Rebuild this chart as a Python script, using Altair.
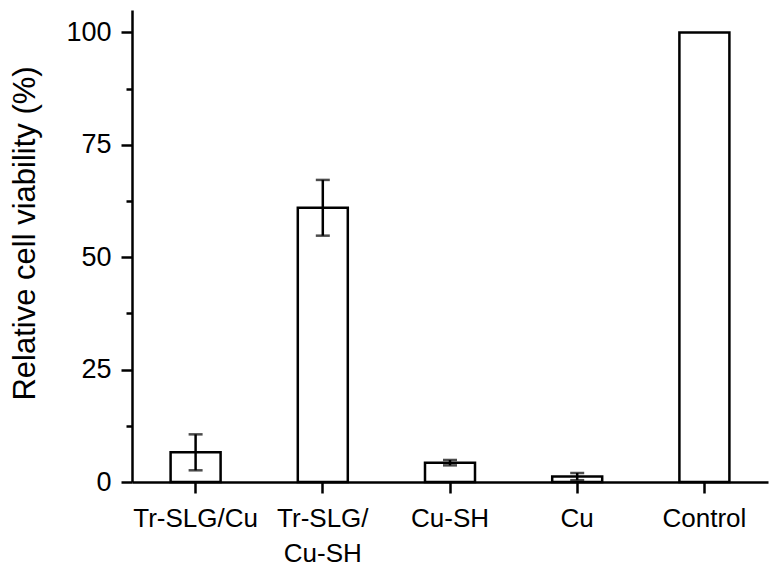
import altair as alt
import pandas as pd

categories = ["Tr-SLG/Cu", "Tr-SLG/\nCu-SH", "Cu-SH", "Cu", "Control"]
values = [6.6, 61.0, 4.3, 1.2, 100.0]
errors = [4.0, 6.2, 0.6, 0.8, 0.0]

df = pd.DataFrame({"cat": categories, "val": values, "err": errors})
df["lo"] = df["val"] - df["err"]
df["hi"] = df["val"] + df["err"]
df_err = df[df["err"] > 0]

FONT = "Liberation Sans"
LW = 2.5

x_enc = alt.X(
    "cat:N",
    sort=categories,
    scale=alt.Scale(paddingInner=0.606, paddingOuter=0.303),
    axis=alt.Axis(
        title=None,
        labelExpr="split(datum.label, '\\n')",
        labelAngle=0,
        labelFont=FONT,
        labelFontSize=26,
        labelColor="black",
        labelLineHeight=35,
        labelPadding=12,
        labelLimit=0,
        labelOverlap=False,
        tickSize=11,
        tickWidth=LW,
        tickColor="black",
        domainColor="black",
        domainWidth=LW,
        grid=False,
    ),
)

y_axis = alt.Axis(
    title="Relative cell viability (%)",
    titleFont=FONT,
    titleFontSize=31,
    titleFontWeight="normal",
    titleColor="black",
    titleX=-98,
    titleY=223,
    titleAngle=-90,
    titleAlign="center",
    titleBaseline="alphabetic",
    values=[0, 12.5, 25, 37.5, 50, 62.5, 75, 87.5, 100],
    labelExpr="datum.value % 25 === 0 ? datum.label : ''",
    labelFont=FONT,
    labelFontSize=27,
    labelColor="black",
    labelPadding=10,
    tickSize={"condition": {"test": "datum.value % 25 === 0", "value": 11}, "value": 6},
    tickWidth=LW,
    tickColor="black",
    domainColor="black",
    domainWidth=LW,
    grid=False,
)

bars = alt.Chart(df).mark_bar(
    fill="white", stroke="black", strokeWidth=LW, size=50
).encode(
    x=x_enc,
    y=alt.Y("val:Q", scale=alt.Scale(domain=[0, 105], nice=False), axis=y_axis),
)

rules = alt.Chart(df_err).mark_rule(color="black", strokeWidth=LW).encode(
    x=alt.X("cat:N", sort=categories),
    y="lo:Q",
    y2="hi:Q",
)

caps_lo = alt.Chart(df_err).mark_tick(
    color="black", size=14, thickness=LW, orient="horizontal"
).encode(x=alt.X("cat:N", sort=categories), y="lo:Q")

caps_hi = alt.Chart(df_err).mark_tick(
    color="black", size=14, thickness=LW, orient="horizontal"
).encode(x=alt.X("cat:N", sort=categories), y="hi:Q")

chart = (
    alt.layer(bars, rules, caps_lo, caps_hi)
    .properties(
        width=636,
        height=472,
        padding={"left": 124, "top": 2, "right": 2, "bottom": 90},
        autosize="none",
        background="white",
    )
    .configure_view(stroke=None)
)

chart.save("out.html", embed_options={"renderer": "svg", "actions": False})
